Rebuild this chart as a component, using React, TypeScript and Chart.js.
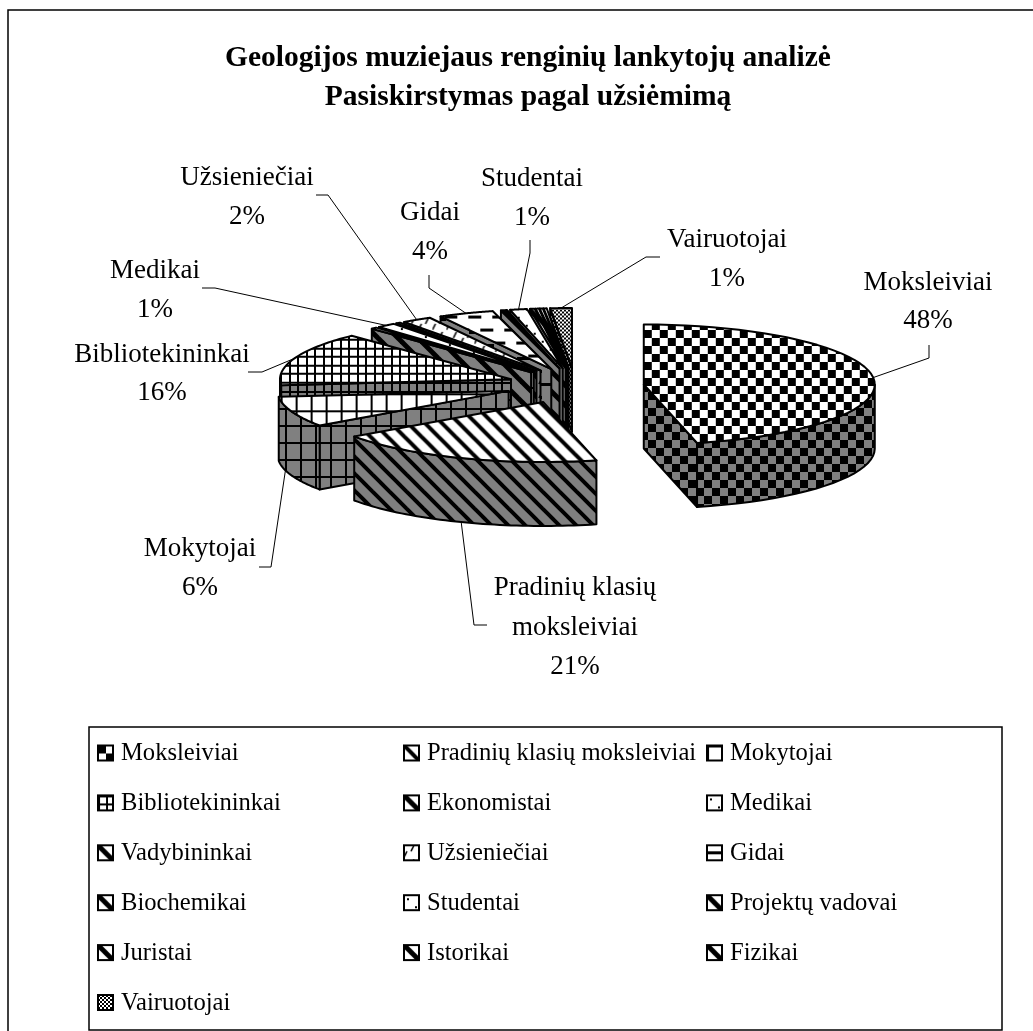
import React, { useEffect, useRef } from "react";
import { Chart, registerables } from "chart.js";

Chart.register(...registerables);

const categories = [
  "Moksleiviai", "Pradinių klasių moksleiviai", "Mokytojai", "Bibliotekininkai",
  "Ekonomistai", "Medikai", "Vadybininkai", "Užsieniečiai", "Gidai", "Biochemikai",
  "Studentai", "Projektų vadovai", "Juristai", "Istorikai", "Fizikai", "Vairuotojai",
];
const shares = [47.5, 20.5, 5.5, 15.5, 0.4, 1.2, 0.3, 1.9, 3.6, 0.4, 1.1, 0.3, 0.2, 0.2, 0.2, 1.4];
const patternKinds = [
  "checker", "wideDiag", "grid", "fineGrid", "diag", "dots", "diag", "dashDiag",
  "hdash", "diag", "dots", "diag", "diag", "diag", "diag", "dither",
];
const titleLines = ["Geologijos muziejaus renginių lankytojų analizė", "Pasiskirstymas pagal užsiėmimą"];

// Label layout: text lines' centre, plus the leader's tail (screen px), keyed by category index
const labelLayout: Record<number, { x: number; y: number[]; lines: string[]; tail: number[][] }> = {
  0: { x: 928, y: [283, 321], lines: ["Moksleiviai"], tail: [[929, 358], [929, 345]] },
  1: { x: 575, y: [588, 628, 667], lines: ["Pradinių klasių", "moksleiviai"], tail: [[474, 625], [487, 625]] },
  2: { x: 200, y: [549, 588], lines: ["Mokytojai"], tail: [[271, 567], [259, 567]] },
  3: { x: 162, y: [355, 393], lines: ["Bibliotekininkai"], tail: [[262, 372], [248, 372]] },
  5: { x: 155, y: [271, 310], lines: ["Medikai"], tail: [[215, 288], [202, 288]] },
  7: { x: 247, y: [178, 217], lines: ["Užsieniečiai"], tail: [[328, 195], [316, 195]] },
  8: { x: 430, y: [213, 252], lines: ["Gidai"], tail: [[429, 288], [429, 275]] },
  10: { x: 532, y: [179, 218], lines: ["Studentai"], tail: [[530, 253], [530, 240]] },
  15: { x: 727, y: [240, 279], lines: ["Vairuotojai"], tail: [[646, 257], [660, 257]] },
};

// View distortion of the 3D projection: [true angle from 12 o'clock, apparent angle], degrees
const viewWarp = [[0, 0], [171, 167], [246.6, 237], [252, 253], [320.4, 317], [334, 332], [360, 360]];

const SERIF = '"Liberation Serif", "Times New Roman", serif';
const CX = 575, CY = 386, SQUASH = 0.26, DEPTH = 64, EXPLODE = 69;
const RADIUS = 231;
const GREY = "#808080";

function warp(a: number) {
  const t = ((a + Math.PI / 2) * 180) / Math.PI;
  for (let i = 1; i < viewWarp.length; i++) {
    const [x0, y0] = viewWarp[i - 1];
    const [x1, y1] = viewWarp[i];
    if (t <= x1 + 1e-6) {
      const v = y0 + ((t - x0) / (x1 - x0)) * (y1 - y0);
      return (v * Math.PI) / 180 - Math.PI / 2;
    }
  }
  return a;
}

function makeTile(kind: string, bg: string) {
  const sizes: Record<string, [number, number]> = {
    checker: [16, 16], wideDiag: [17, 17], diag: [20, 20], grid: [15, 17], fineGrid: [17, 17],
    dots: [16, 16], dashDiag: [14, 14], hdash: [24, 26], dither: [4, 4],
  };
  const [w, h] = sizes[kind];
  const c = document.createElement("canvas");
  c.width = w; c.height = h;
  const g = c.getContext("2d") as CanvasRenderingContext2D;
  g.fillStyle = bg; g.fillRect(0, 0, w, h);
  g.fillStyle = "#000"; g.strokeStyle = "#000";
  const stripes = (lw: number) => {
    g.lineWidth = lw;
    for (let x = -w; x <= w; x += w) {
      g.beginPath(); g.moveTo(x - 2, -2); g.lineTo(x + w + 2, h + 2); g.stroke();
    }
  };
  if (kind === "checker") { g.fillRect(0, 0, 8, 8); g.fillRect(8, 8, 8, 8); }
  if (kind === "dither") { g.fillRect(0, 0, 2, 2); g.fillRect(2, 2, 2, 2); }
  if (kind === "wideDiag") stripes(4);
  if (kind === "diag") stripes(5);
  if (kind === "grid") { g.fillRect(0, 0, 2, h); g.fillRect(0, 0, w, 2); }
  if (kind === "fineGrid") {
    g.fillRect(0, 0, 2, h); g.fillRect(8, 0, 2, h);
    g.fillRect(0, 0, w, 2); g.fillRect(0, 8, w, 2);
  }
  if (kind === "dots") { g.fillRect(3, 3, 2, 2); g.fillRect(11, 11, 2, 2); }
  if (kind === "dashDiag") {
    g.lineWidth = 1.6;
    g.beginPath(); g.moveTo(3, 6); g.lineTo(0, 12); g.stroke();
    g.beginPath(); g.moveTo(10, 0); g.lineTo(7, 6); g.stroke();
  }
  if (kind === "hdash") {
    g.fillRect(1, 6, 13, 3);
    g.fillRect(13, 19, 11, 3); g.fillRect(0, 19, 2, 3);
  }
  return c;
}

function makePattern(ctx: CanvasRenderingContext2D, kind: string, bg: string, squashed: boolean) {
  const p = ctx.createPattern(makeTile(kind, bg), "repeat") as CanvasPattern;
  if (squashed) p.setTransform(new DOMMatrix([1, 0, 0, 1 / SQUASH, 0, 0]));
  return p;
}

export default function App() {
  const ref = useRef<HTMLCanvasElement>(null);
  useEffect(() => {
    const canvas = ref.current as HTMLCanvasElement;
    const ctx0 = canvas.getContext("2d") as CanvasRenderingContext2D;
    const tops = patternKinds.map((k) => makePattern(ctx0, k, "#fff", true));
    const walls = patternKinds.map((k) => makePattern(ctx0, k, GREY, false));
    const icons = patternKinds.map((k) => makePattern(ctx0, k, "#fff", false));

    const apexOf = (el: any) => {
      const mid = (el.startAngle + el.endAngle) / 2;
      return [CX + Math.cos(mid) * EXPLODE, CY + Math.sin(mid) * EXPLODE * SQUASH];
    };

    const pie3d = {
      id: "pie3d",
      beforeDraw(chart: any) {
        const ctx = chart.ctx as CanvasRenderingContext2D;
        ctx.save();
        ctx.fillStyle = "#fff";
        ctx.fillRect(0, 0, chart.width, chart.height);
        ctx.strokeStyle = "#000";
        ctx.lineWidth = 1.5;
        ctx.strokeRect(8, 10, 1300, 1300);
        ctx.restore();
      },
      beforeDatasetDraw(chart: any, args: any) {
        const ctx = chart.ctx as CanvasRenderingContext2D;
        const arcs = args.meta.data as any[];
        const order = [0, ...arcs.map((_, i) => arcs.length - 1 - i).filter((i) => i !== 0)];
        ctx.save();
        ctx.lineJoin = "round";
        ctx.strokeStyle = "#000";
        ctx.lineWidth = 2;
        for (const i of order) {
          const el = arcs[i];
          const trueS = el.startAngle, trueE = el.endAngle;
          const s = warp(trueS), e = warp(trueE), r = el.outerRadius;
          const [ax, ay] = apexOf(el);
          const rim = (a: number) => [ax + Math.cos(a) * r, ay + Math.sin(a) * r * SQUASH];
          const quad = (a: number) => {
            const [x, y] = rim(a);
            ctx.beginPath();
            ctx.moveTo(ax, ay); ctx.lineTo(x, y); ctx.lineTo(x, y + DEPTH); ctx.lineTo(ax, ay + DEPTH);
            ctx.closePath();
            ctx.fillStyle = walls[i]; ctx.fill(); ctx.stroke();
          };
          if (Math.cos(s) < -1e-3) quad(s);
          if (Math.cos(e) > 1e-3) quad(e);
          // outer wall: only the arc portion that faces the viewer
          const pts: number[][] = [];
          const n = 48;
          for (let k = 0; k <= n; k++) {
            const a = s + ((e - s) * k) / n;
            if (Math.sin(a) >= 0) pts.push(rim(a));
          }
          if (pts.length > 1) {
            ctx.beginPath();
            pts.forEach(([x, y], k) => (k ? ctx.lineTo(x, y) : ctx.moveTo(x, y)));
            for (let k = pts.length - 1; k >= 0; k--) ctx.lineTo(pts[k][0], pts[k][1] + DEPTH);
            ctx.closePath();
            ctx.fillStyle = walls[i]; ctx.fill(); ctx.stroke();
          }
          // top face: the library's arc element, flattened
          ctx.save();
          ctx.translate(ax, ay);
          ctx.scale(1, SQUASH);
          ctx.translate(-el.x, -el.y);
          el.startAngle = s; el.endAngle = e;
          el.draw(ctx);
          el.startAngle = trueS; el.endAngle = trueE;
          ctx.restore();
          // outline of the top face in screen space
          ctx.beginPath();
          ctx.moveTo(ax, ay);
          for (let k = 0; k <= n; k++) {
            const [x, y] = rim(s + ((e - s) * k) / n);
            ctx.lineTo(x, y);
          }
          ctx.closePath();
          ctx.stroke();
        }
        ctx.restore();
        return false;
      },
      afterDraw(chart: any) {
        const ctx = chart.ctx as CanvasRenderingContext2D;
        const arcs = chart.getDatasetMeta(0).data as any[];
        ctx.save();
        ctx.fillStyle = "#000";
        ctx.textBaseline = "middle";
        // data labels with leaders
        ctx.font = `27px ${SERIF}`;
        ctx.textAlign = "center";
        Object.keys(labelLayout).forEach((key) => {
          const i = Number(key);
          const l = labelLayout[i];
          const el = arcs[i];
          const mid = warp((el.startAngle + el.endAngle) / 2);
          const [ax, ay] = apexOf(el);
          const rx = ax + Math.cos(mid) * el.outerRadius;
          const ry = ay + Math.sin(mid) * el.outerRadius * SQUASH + (Math.sin(mid) > 0 ? DEPTH : 0);
          ctx.strokeStyle = "#000";
          ctx.lineWidth = 1;
          ctx.beginPath();
          ctx.moveTo(rx, ry);
          l.tail.forEach(([x, y]) => ctx.lineTo(x, y));
          ctx.stroke();
          l.lines.forEach((t, k) => ctx.fillText(t, l.x, l.y[k]));
          ctx.fillText(`${Math.round(shares[i])}%`, l.x, l.y[l.y.length - 1]);
        });
        // legend box
        const left = 89, top = 727, right = 1002, bottom = 1030;
        ctx.strokeStyle = "#000";
        ctx.lineWidth = 1.5;
        ctx.strokeRect(left, top, right - left, bottom - top);
        const colX = [98, 404, 707];
        ctx.textAlign = "left";
        ctx.font = `24.6px ${SERIF}`;
        categories.forEach((name, i) => {
          const col = i % 3, row = Math.floor(i / 3);
          const x = colX[col], y = 753 + row * 49.9;
          ctx.save();
          ctx.translate(x, y - 7.5);
          ctx.fillStyle = icons[i];
          ctx.fillRect(0, 0, 15, 15);
          ctx.lineWidth = 2;
          ctx.strokeRect(0, 0, 15, 15);
          ctx.restore();
          ctx.fillText(name, x + 23, y + 1);
        });
        ctx.restore();
      },
    };

    const chart = new Chart(canvas, {
      type: "pie",
      data: {
        labels: categories,
        datasets: [{ data: shares, backgroundColor: tops, borderWidth: 0, offset: 0, radius: RADIUS } as any],
      },
      options: {
        animation: false,
        responsive: false,
        events: [],
        layout: { padding: { left: 23 } },
        plugins: {
          legend: { display: false },
          tooltip: { enabled: false },
          title: {
            display: true,
            text: titleLines,
            color: "#000",
            font: { family: SERIF, size: 29.5, weight: "bold", lineHeight: 1.33 },
            padding: { top: 39, bottom: 10 },
          },
        },
      },
      plugins: [pie3d as any],
    });
    return () => chart.destroy();
  }, []);
  return (
    <canvas
      ref={ref}
      width={1033}
      height={1031}
      style={{ position: "absolute", left: 0, top: 0, display: "block" }}
    />
  );
}
